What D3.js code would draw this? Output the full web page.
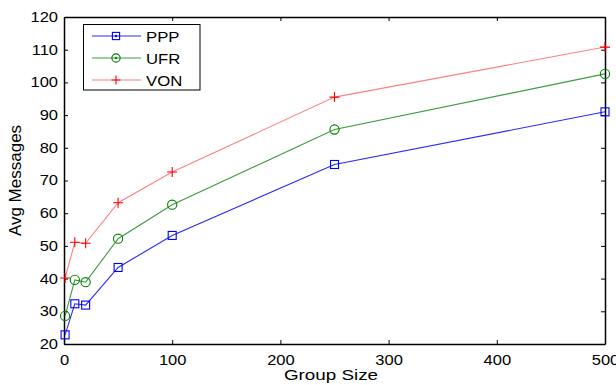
<!DOCTYPE html>
<html>
<head>
<meta charset="utf-8">
<script src="https://cdn.jsdelivr.net/npm/d3@7"></script>
<style>
  body { margin: 0; background: #fff; }
  text { font-family: Arial, "Liberation Sans", sans-serif; fill: #000; }
</style>
</head>
<body>
<svg id="chart" width="616" height="385"></svg>
<script>
// data
const groupSize = [1, 10, 20, 50, 100, 250, 500];
const ppp = [22.8, 32.3, 31.9, 43.4, 53.2, 74.9, 91.0];
const ufr = [28.6, 39.6, 38.9, 52.2, 62.6, 85.6, 102.6];
const von = [40.2, 51.1, 50.8, 63.2, 72.6, 95.5, 110.8];
const xTicks = [0, 100, 200, 300, 400, 500];
const yTicks = [20, 30, 40, 50, 60, 70, 80, 90, 100, 110, 120];

const series = [
  { name: "PPP", values: ppp, line: "#2a2aff", mark: "#0000ff", shape: "square" },
  { name: "UFR", values: ufr, line: "#3c9c3c", mark: "#008000", shape: "circle" },
  { name: "VON", values: von, line: "#ff8080", mark: "#ff0000", shape: "plus" }
];

const svg = d3.select("#chart");
const plot = { left: 64, right: 605, top: 17, bottom: 344 };

const x = d3.scaleLinear().domain([0, 500]).range([plot.left, plot.right]);
const y = d3.scaleLinear().domain([20, 120]).range([plot.bottom, plot.top]);

// axes (MATLAB style, ticks inward, box all around)
const g = svg.append("g");
const xAxis = g.append("g").attr("transform", `translate(0,${plot.bottom})`)
  .call(d3.axisBottom(x).tickValues(xTicks).tickSize(-4).tickPadding(11).tickSizeOuter(0));
const yAxis = g.append("g").attr("transform", `translate(${plot.left},0)`)
  .call(d3.axisLeft(y).tickValues(yTicks).tickSize(-4).tickPadding(6).tickSizeOuter(0));
g.append("g").attr("transform", `translate(0,${plot.top})`)
  .call(d3.axisTop(x).tickValues(xTicks).tickSize(-4).tickFormat("").tickSizeOuter(0));
g.append("g").attr("transform", `translate(${plot.right},0)`)
  .call(d3.axisRight(y).tickValues(yTicks).tickSize(-4).tickFormat("").tickSizeOuter(0));
g.selectAll(".domain").attr("stroke", "#000").attr("stroke-width", 1.5);
g.selectAll(".tick line").attr("stroke", "#000");
g.selectAll(".tick text").attr("font-size", 14).attr("fill", "#000")
  .attr("font-family", "Arial, 'Liberation Sans', sans-serif")
  .attr("transform", "scale(1.18,1)");
yAxis.selectAll(".tick text").attr("x", -6 / 1.18);

function drawMarker(sel, s, cx, cy, k) {
  if (s.shape === "square") {
    sel.append("rect").attr("x", cx - 4 * k).attr("y", cy - 4 * k).attr("width", 8 * k).attr("height", 8 * k)
      .attr("fill", "none").attr("stroke", s.mark).attr("stroke-width", 1.1);
  } else if (s.shape === "circle") {
    sel.append("circle").attr("cx", cx).attr("cy", cy).attr("r", 4.6 * k)
      .attr("fill", "none").attr("stroke", s.mark).attr("stroke-width", 1.1);
  } else {
    sel.append("path").attr("d", `M${cx - 5 * k},${cy}H${cx + 5 * k}M${cx},${cy - 5 * k}V${cy + 5 * k}`)
      .attr("stroke", s.mark).attr("stroke-width", 1.1);
  }
}

const line = d3.line().x((d, i) => x(groupSize[i])).y(d => y(d));

series.forEach(s => {
  svg.append("path").datum(s.values).attr("d", line)
    .attr("fill", "none").attr("stroke", s.line).attr("stroke-width", 1.1);
  const mg = svg.append("g");
  s.values.forEach((v, i) => drawMarker(mg, s, x(groupSize[i]), y(v), 1));
});

// legend
const lg = svg.append("g");
lg.append("rect").attr("x", 83.5).attr("y", 24.5).attr("width", 116.5).attr("height", 65.5)
  .attr("fill", "#fff").attr("stroke", "#000").attr("stroke-width", 1);
series.forEach((s, i) => {
  const ly = 36 + i * 22;
  lg.append("line").attr("x1", 92).attr("x2", 141).attr("y1", ly).attr("y2", ly)
    .attr("stroke", s.line).attr("stroke-width", 1.1);
  drawMarker(lg, s, 116, ly, 0.9);
  if (s.shape !== "plus") {
    lg.append("circle").attr("cx", 116).attr("cy", ly).attr("r", 1.2).attr("fill", s.mark);
  }
  lg.append("text").attr("transform", `translate(146,${ly + 5.5}) scale(1.08,1)`)
    .attr("font-size", 15.5).text(s.name);
});

// axis titles
svg.append("text").attr("transform", "translate(331,379.5) scale(1.3,1)").attr("text-anchor", "middle")
  .attr("font-size", 14.5).text("Group Size");
svg.append("text").attr("transform", `translate(21,${(plot.top + plot.bottom) / 2}) rotate(-90)`)
  .attr("text-anchor", "middle").attr("font-size", 17).text("Avg Messages");
</script>
</body>
</html>
